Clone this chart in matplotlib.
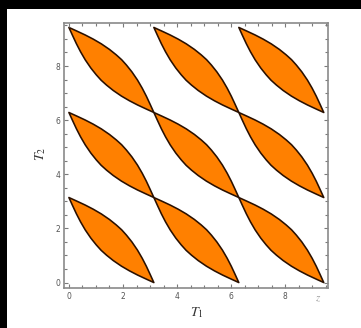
import numpy as np
import matplotlib
matplotlib.use("Agg")
import matplotlib.pyplot as plt
from matplotlib.patches import Polygon, Rectangle
from matplotlib.ticker import MultipleLocator

plt.rcParams["mathtext.fontset"] = "stix"

# Upper boundary of the lens in the cell [0, pi] x [0, pi],
# from the (0, pi) tip to the point where it crosses T1 = T2
lens_t1 = [0.00, 0.30, 0.60, 0.90, 1.20, 1.50, 1.75, 1.95]
lens_t2 = [np.pi, 3.005, 2.865, 2.71, 2.535, 2.33, 2.13, 1.95]

# Cells (in units of pi) that carry a lens
cell_i = [0, 1, 2]
cell_j = [0, 1, 2]

x_ticks = [0, 2, 4, 6, 8]
y_ticks = [0, 2, 4, 6, 8]

FILL = "#ff8000"
EDGE = "#2a1000"

W, H = 361, 328
fig = plt.figure(figsize=(W / 100, H / 100), dpi=100, facecolor="black")
fig.patches.append(Rectangle((7 / W, 0), 1 - 7 / W, (H - 9) / H,
                             transform=fig.transFigure, facecolor="white",
                             edgecolor="none", zorder=-10))

ax = fig.add_axes([64.3 / W, 1 - 287.7 / H, (327.7 - 64.3) / W, (287.7 - 22.7) / H])
ax.set_zorder(1)
ax.set_facecolor("white")

# full upper boundary: first half plus its mirror image across T1 = T2
upper = list(zip(lens_t1, lens_t2)) + list(zip(lens_t2[-2::-1], lens_t1[-2::-1]))
# lower boundary: point reflection of the upper one through the cell centre
lower = [(np.pi - a, np.pi - b) for a, b in upper]
outline = np.array(upper + lower[1:-1])

for i in cell_i:
    for j in cell_j:
        pts = outline + np.array([i * np.pi, j * np.pi])
        ax.add_patch(Polygon(pts, closed=True, facecolor=FILL,
                             edgecolor=EDGE, linewidth=1.15, joinstyle="round"))

ax.set_xlim(-0.17, 9.57)
ax.set_ylim(-0.19, 9.60)

ax.set_xticks(x_ticks)
ax.set_yticks(y_ticks)
ax.set_xticklabels([str(v) for v in x_ticks])
ax.set_yticklabels([str(v) for v in y_ticks])
ax.xaxis.set_minor_locator(MultipleLocator(0.5))
ax.yaxis.set_minor_locator(MultipleLocator(0.5))
ax.tick_params(which="both", direction="in", top=True, right=True,
               color="#7a7a7a", width=0.8)
ax.tick_params(which="major", length=3.2, labelsize=5.5, labelcolor="#555555", pad=3)
ax.tick_params(which="minor", length=1.9)
for s in ax.spines.values():
    s.set_color("#8a8a8a")
    s.set_linewidth(1.2)

fig.text(197 / W, 1 - 313 / H, r"$T_1$", ha="center", va="center",
         fontsize=10, color="#333333")
fig.text(41 / W, 1 - 154 / H, r"$T_2$", ha="center", va="center",
         fontsize=10, color="#333333", rotation=90)
fig.text(318 / W, 1 - 299 / H, r"$z$", ha="center", va="center",
         fontsize=8, color="#999999")

fig.savefig("out.png", dpi=100, facecolor="black")
